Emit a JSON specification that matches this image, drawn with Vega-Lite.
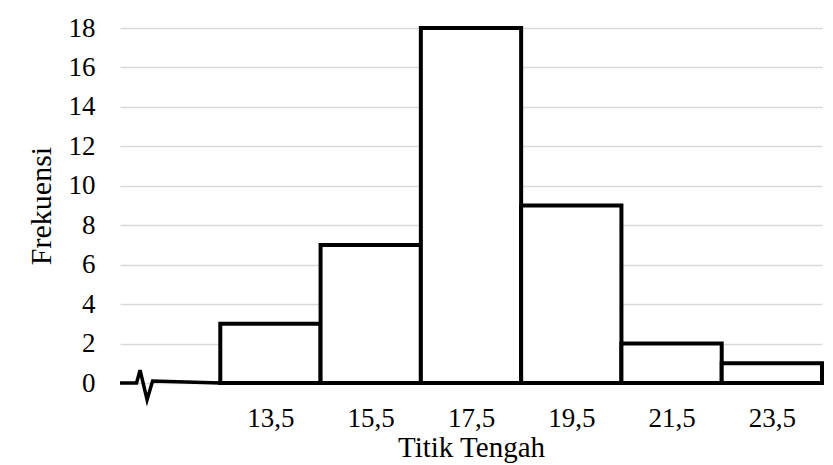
{
  "$schema": "https://vega.github.io/schema/vega-lite/v6.json",
  "autosize": "none",
  "width": 702,
  "height": 355,
  "padding": {"left": 120, "top": 28, "right": 11, "bottom": 82},
  "background": "white",
  "config": {
    "view": {"stroke": null},
    "font": "Liberation Serif",
    "axis": {"labelOverlap": false, "labelFontSize": 27}
  },
  "datasets": {
    "bars": [
      {"mid": 13.5, "lo": 12.5, "hi": 14.5, "freq": 3},
      {"mid": 15.5, "lo": 14.5, "hi": 16.5, "freq": 7},
      {"mid": 17.5, "lo": 16.5, "hi": 18.5, "freq": 18},
      {"mid": 19.5, "lo": 18.5, "hi": 20.5, "freq": 9},
      {"mid": 21.5, "lo": 20.5, "hi": 22.5, "freq": 2},
      {"mid": 23.5, "lo": 22.5, "hi": 24.5, "freq": 1}
    ],
    "brk": [
      {"i": 0, "x": 10.5, "y": 0},
      {"i": 1, "x": 10.83, "y": 0},
      {"i": 2, "x": 10.9, "y": 0.65},
      {"i": 3, "x": 11.04, "y": -0.85},
      {"i": 4, "x": 11.15, "y": 0.1},
      {"i": 5, "x": 12.5, "y": 0}
    ]
  },
  "layer": [
    {
      "data": {"name": "bars"},
      "mark": {"type": "rect", "fill": "white", "stroke": "black", "strokeWidth": 4},
      "encoding": {
        "x": {
          "field": "lo", "type": "quantitative",
          "scale": {"domain": [10.5, 24.5], "nice": false, "zero": false},
          "axis": {
            "values": [13.5, 15.5, 17.5, 19.5, 21.5, 23.5],
            "labelExpr": "replace(format(datum.value, '.1f'), '.', ',')",
            "grid": false, "ticks": false, "domain": false,
            "labelFont": "Liberation Serif", "labelFontSize": 27, "labelColor": "black",
            "labelPadding": 22, "labelOverlap": false, "labelFlush": false,
            "title": "Titik Tengah", "titleFont": "Liberation Serif", "titleFontSize": 29,
            "titleFontWeight": "normal", "titleColor": "black", "titlePadding": 2
          }
        },
        "x2": {"field": "hi"},
        "y": {
          "field": "freq", "type": "quantitative",
          "scale": {"domain": [0, 18], "nice": false},
          "axis": {
            "values": [0, 2, 4, 6, 8, 10, 12, 14, 16, 18],
            "tickCount": 10,
            "grid": true, "gridColor": "#d9d9d9", "gridWidth": 1.5,
            "ticks": false, "domain": false,
            "labelFont": "Liberation Serif", "labelFontSize": 27, "labelColor": "black",
            "labelPadding": 25, "labelOverlap": false, "labelFlush": false,
            "title": "Frekuensi", "titleFont": "Liberation Serif", "titleFontSize": 30,
            "titleFontWeight": "normal", "titleColor": "black", "titlePadding": 12
          }
        },
        "y2": {"datum": 0}
      }
    },
    {
      "data": {"name": "brk"},
      "mark": {"type": "line", "color": "black", "strokeWidth": 3.5, "clip": false},
      "encoding": {
        "x": {"field": "x", "type": "quantitative"},
        "y": {"field": "y", "type": "quantitative"},
        "order": {"field": "i"}
      }
    }
  ]
}
